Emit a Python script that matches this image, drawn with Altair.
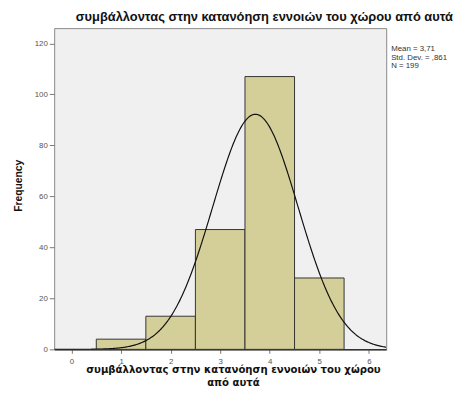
import altair as alt
import pandas as pd

# Data
bin_start = [0.5, 1.5, 2.5, 3.5, 4.5]
bin_end = [1.5, 2.5, 3.5, 4.5, 5.5]
counts = [4, 13, 47, 107, 28]
mean_val = 3.71
sd_val = 0.861
n_val = 199
stats_lines = ["Mean = 3,71", "Std. Dev. = ,861", "N = 199"]
x_ticks = [0, 1, 2, 3, 4, 5, 6]
y_ticks = [0, 20, 40, 60, 80, 100, 120]
title_text = "συμβάλλοντας στην κατανόηση εννοιών του χώρου από αυτά"
x_title = ["συμβάλλοντας στην κατανόηση εννοιών του χώρου", "από αυτά"]

bars = pd.DataFrame({"start": bin_start, "end": bin_end, "count": counts})
stats = pd.DataFrame({"t": ["\n".join(stats_lines)]})

FONT = "Liberation Sans"
xdom = [-0.35, 6.35]
ydom = [0, 126]

xscale = alt.Scale(domain=xdom, nice=False, zero=False)
yscale = alt.Scale(domain=ydom, nice=False)

x_axis = alt.Axis(values=x_ticks, title=x_title, labelFontSize=8, labelColor="#555555",
                  tickSize=4, tickColor="#777777", domainColor="#333333", domainWidth=1.5,
                  grid=False, labelPadding=4, titleFontSize=10.3, titleFontWeight="bold",
                  titleColor="#111111", titleX=182, titleY=16, titleBaseline="top",
                  titleLineHeight=13, titleFont="DejaVu Sans", labelFont=FONT)
y_axis = alt.Axis(values=y_ticks, title="Frequency", labelFontSize=8, labelColor="#555555",
                  tickSize=5, tickColor="#777777", domain=False, grid=False, labelPadding=2,
                  titleFontSize=10.5, titleFontWeight="bold", titleColor="#111111",
                  titleX=-31, titleY=160, titleFont=FONT, labelFont=FONT)

bar_layer = alt.Chart(bars).mark_rect(fill="#D4CF98", stroke="#333333", strokeWidth=1).encode(
    x=alt.X("start:Q", scale=xscale, axis=x_axis),
    x2="end:Q",
    y=alt.Y("count:Q", scale=yscale, axis=y_axis),
    y2=alt.datum(0),
)

curve = alt.Chart(alt.sequence(start=xdom[0], stop=xdom[1] + 0.01, step=0.02, as_="x")).transform_calculate(
    y=f"{n_val} / ({sd_val} * sqrt(2*PI)) * exp(-0.5 * pow((datum.x - {mean_val}) / {sd_val}, 2))"
).mark_line(color="#111111", strokeWidth=1.2, clip=True).encode(
    x=alt.X("x:Q", scale=xscale),
    y=alt.Y("y:Q", scale=yscale),
)

stats_layer = alt.Chart(stats).mark_text(
    align="left", baseline="top", fontSize=8, color="#333333", font=FONT,
    lineBreak="\n", lineHeight=9,
).encode(
    x=alt.value(343),
    y=alt.value(17),
    text="t:N",
)

chart = alt.layer(bar_layer, curve, stats_layer).properties(
    width=338, height=327,
    autosize=alt.AutoSizeParams(type="none"),
    padding={"left": 47, "top": 17, "right": 69, "bottom": 45},
    title=alt.TitleParams(title_text, fontSize=13.1, fontWeight="bold", font=FONT,
                          color="#111111", anchor="middle", dx=45, offset=4),
).configure_view(fill="#F0F0F0", stroke="#888888", strokeWidth=1)

chart.save("out.html", embed_options={"renderer": "svg", "actions": False})
